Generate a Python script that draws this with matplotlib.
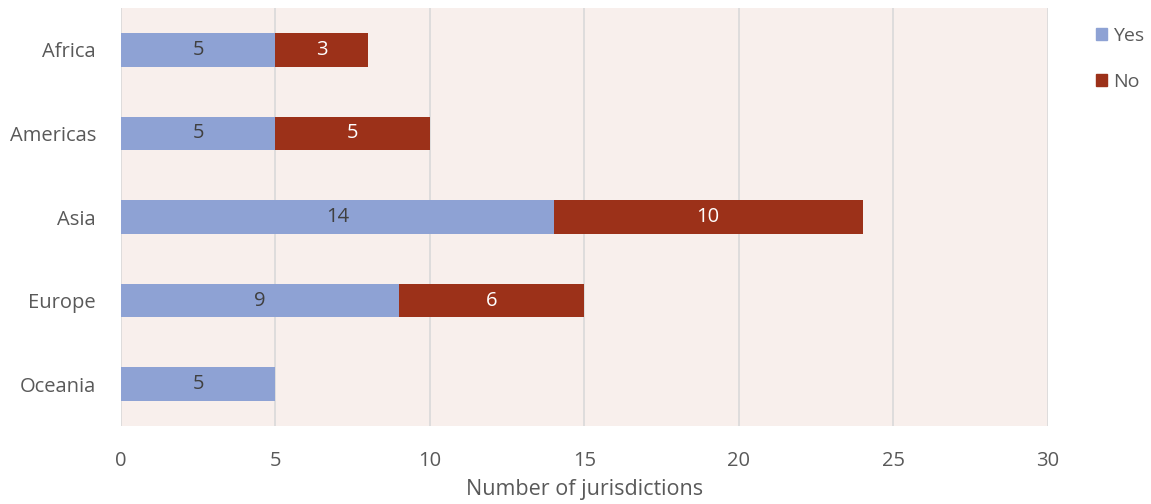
import numpy as np
import matplotlib.pyplot as plt
from matplotlib.patches import Patch

plt.rcParams['font.family'] = ['Open Sans', 'DejaVu Sans']

regions = ['Africa', 'Americas', 'Asia', 'Europe', 'Oceania']
yes = [5, 5, 14, 9, 5]
no = [3, 5, 10, 6, 0]

blue = '#8EA2D4'
red = '#9C3119'
grey = '#595959'

fig = plt.figure(figsize=(11.51, 5.04), dpi=100)
ax = fig.add_axes([0.1051, 0.1548, 0.8054, 0.8292])
ax.set_facecolor('#F8EFEC')

y = np.arange(len(regions))
b1 = ax.barh(y, yes, height=0.4, color=blue, zorder=3)
b2 = ax.barh(y, no, left=yes, height=0.4, color=red, zorder=3)

for i in range(len(regions)):
    if yes[i] > 0:
        ax.text(yes[i] / 2, y[i], str(yes[i]), ha='center', va='center',
                fontsize=14.5, color='#404040', zorder=4)
    if no[i] > 0:
        ax.text(yes[i] + no[i] / 2, y[i], str(no[i]), ha='center', va='center',
                fontsize=14.5, color='white', zorder=4)

ax.set_xlim(0, 30)
ax.set_ylim(len(regions) - 0.5, -0.5)
ax.set_xticks(range(0, 31, 5))
ax.set_yticks(y)
ax.set_yticklabels(regions)
ax.grid(axis='x', color='#D9D9D9', linewidth=1.2, zorder=0)
for s in ax.spines.values():
    s.set_visible(False)
ax.tick_params(length=0, labelsize=14.5, colors=grey)
ax.tick_params(axis='y', pad=18)
ax.tick_params(axis='x', pad=18)
ax.set_xlabel('Number of jurisdictions', fontsize=15.5, color=grey, labelpad=6)

handles = [Patch(color=blue, label='Yes'), Patch(color=red, label='No')]
fig.legend(handles=handles, loc='upper left', bbox_to_anchor=(0.952, 0.947),
           frameon=False, fontsize=14, labelcolor=grey, handlelength=0.6,
           handleheight=0.6, handletextpad=0.3, labelspacing=1.45,
           borderpad=0, borderaxespad=0)

fig.savefig('out.png', dpi=100)
